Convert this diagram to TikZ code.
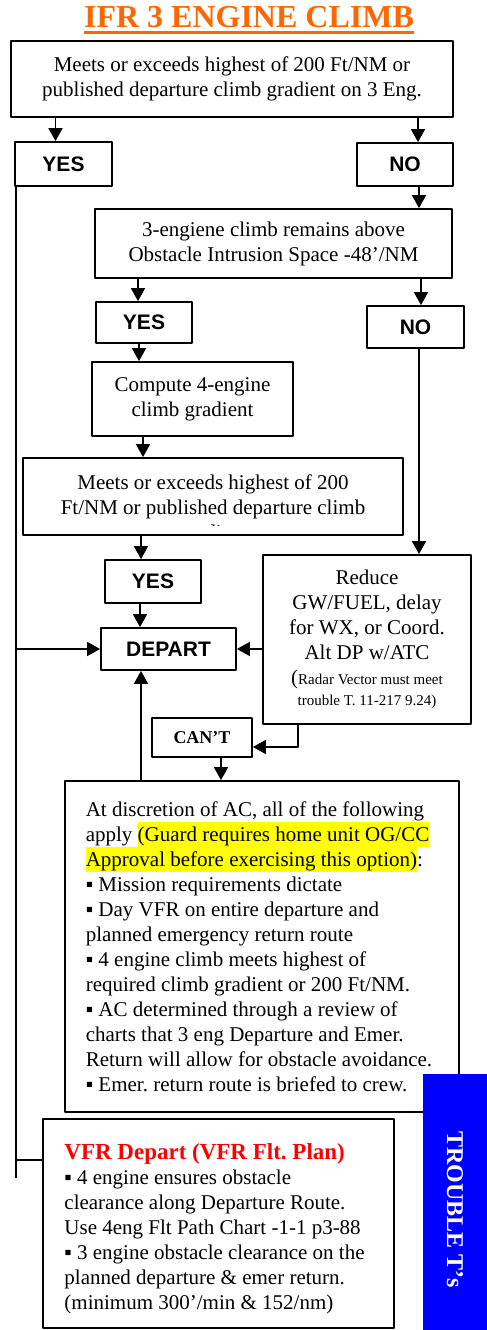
\documentclass[tikz,border=0pt]{standalone}
\usepackage{fontspec}
\setmainfont{Liberation Serif}
\newfontfamily\arialfont{Liberation Sans}
\usetikzlibrary{arrows.meta}
\definecolor{titleorange}{RGB}{255,102,0}
\definecolor{troubleblue}{RGB}{0,0,255}
\definecolor{markyellow}{RGB}{255,255,0}
\newcommand{\markup}[1]{{\setlength{\fboxsep}{0pt}\colorbox{markyellow}{\rule[-5.5pt]{0pt}{25pt}#1}}}
\frenchspacing
\begin{document}
\begin{tikzpicture}[x=1pt, y=-1pt, line join=round, >={Triangle[length=13pt,width=14pt]},
	font=\fontsize{21}{25}\selectfont,
	box/.style={draw, line width=1.8pt, inner sep=0pt, align=center},
	answer/.style={box, font=\arialfont\bfseries\fontsize{21}{25}\selectfont},
	link/.style={line width=1.8pt}]
	\useasboundingbox (0,0) rectangle (487,1330);
	\node[anchor=base, inner sep=0pt, text=titleorange, font=\bfseries\fontsize{32}{36}\selectfont] (title) at (249,28) {IFR 3 ENGINE CLIMB};
	\draw[titleorange, line width=2.6pt] ([yshift=-4.5pt]title.base west) -- ([yshift=-4.5pt]title.base east);
	\node[box, minimum width=442pt, minimum height=76pt] (gradthree) at (232,79) {Meets or exceeds highest of 200 Ft/NM or\\published departure climb gradient on 3 Eng.};
	\node[answer, minimum width=97pt, minimum height=44pt] (yesthree) at (63.5,164) {YES};
	\node[answer, minimum width=96pt, minimum height=43pt] (nothree) at (405,164.5) {NO};
	\node[box, minimum width=357pt, minimum height=69pt] (obstacle) at (273.5,243.5) {3-engiene climb remains above\\Obstacle Intrusion Space -48’/NM};
	\node[answer, minimum width=96pt, minimum height=41pt] (yesobst) at (144,322.5) {YES};
	\node[answer, minimum width=97pt, minimum height=42pt] (noobst) at (415.5,327) {NO};
	\node[box, minimum width=201pt, minimum height=74pt] (computefour) at (192.5,399) {Compute 4-engine\\climb gradient};
	\node[box, minimum width=380pt, minimum height=77pt] (gradfour) at (213,496.5) {Meets or exceeds highest of 200\\Ft/NM or published departure climb};
	\begin{scope}
		\clip ([yshift=10pt]gradfour.south west) rectangle (gradfour.north east);
		\node[anchor=base, inner sep=0pt] (gradtail) at ([yshift=-42.5pt]gradfour.center) {gradient};
	\end{scope}
	\node[answer, minimum width=96pt, minimum height=43pt] (yesfour) at (153,581.5) {YES};
	\node[box, minimum width=208pt, minimum height=169pt] (reduce) at (367,639.5) {Reduce\\GW/FUEL, delay\\for WX, or Coord.\\Alt DP w/ATC\\(\fontsize{15}{21}\selectfont Radar Vector must meet\\[-4pt]{\fontsize{15}{21}\selectfont trouble T. 11-217 9.24)}};
	\node[answer, minimum width=135pt, minimum height=42pt] (depart) at (168.5,649) {DEPART};
	\node[box, minimum width=100pt, minimum height=39pt, font=\bfseries\fontsize{18}{22}\selectfont] (cant) at (202,737.5) {CAN’T};
	\node[box, align=left, minimum width=394pt, minimum height=331pt] (discretion) at (262,946.5) {At discretion of AC, all of the following\\apply \markup{(Guard requires home unit OG/CC}\\\markup{Approval before exercising this option)}:\\▪ Mission requirements dictate\\▪ Day VFR on entire departure and\\planned emergency return route\\▪ 4 engine climb meets highest of\\required climb gradient or 200 Ft/NM.\\▪ AC determined through a review of\\charts that 3 eng Departure and Emer.\\Return will allow for obstacle avoidance.\hspace*{6pt}\mbox{}\\▪ Emer. return route is briefed to crew.};
	\node[box, align=left, minimum width=351pt, minimum height=209pt] (vfr) at (218.5,1223.5) {{\color{red}\bfseries\fontsize{23}{25}\selectfont\rule{0pt}{26pt}VFR Depart (VFR Flt. Plan)}\\▪ 4 engine ensures obstacle\\clearance along Departure Route.\\Use 4eng Flt Path Chart -1-1 p3-88\\▪ 3 engine obstacle clearance on the\hspace*{8pt}\mbox{}\\planned departure \& emer return.\\(minimum 300’/min \& 152/nm)};
	\node[fill=troubleblue, rotate=-90, minimum width=256pt, minimum height=64pt, inner sep=0pt, text=white, font=\bfseries\fontsize{24}{28}\selectfont] (trouble) at (455,1202) {\hspace*{15pt}TROUBLE T’s};
	\coordinate (yesfoot) at (16,1178);
	\draw[link,->] ([xshift=-8pt]yesthree.north |- gradthree.south) -- ([xshift=-8pt]yesthree.north);
	\draw[link,->] ([xshift=13pt]nothree.north |- gradthree.south) -- ([xshift=13pt]nothree.north);
	\draw[link,->] ([xshift=14pt]nothree.south) -- ([xshift=14pt]nothree.south |- obstacle.north);
	\draw[link,->] ([xshift=-6pt]yesobst.north |- obstacle.south) -- ([xshift=-6pt]yesobst.north);
	\draw[link,->] ([xshift=5.5pt]noobst.north |- obstacle.south) -- ([xshift=5.5pt]noobst.north);
	\draw[link,->] ([xshift=-5pt]yesobst.south) -- ([xshift=-5pt]yesobst.south |- computefour.north);
	\draw[link,->] ([xshift=-49.5pt]computefour.south) -- ([xshift=-49.5pt]computefour.south |- gradfour.north);
	\draw[link,->] ([xshift=-12pt]yesfour.north |- gradfour.south) -- ([xshift=-12pt]yesfour.north);
	\draw[link,->] ([xshift=3.5pt]noobst.south) -- ([xshift=3.5pt]noobst.south |- reduce.north);
	\draw[link,->] ([xshift=-13pt]yesfour.south) -- ([xshift=-13pt]yesfour.south |- depart.north);
	\draw[link,->] (reduce.west |- depart.east) -- (depart.east);
	\draw[link] (yesthree.south west -| yesfoot) -- (yesfoot);
	\draw[link,->] (depart.west -| yesfoot) -- (depart.west);
	\draw[link] ([yshift=63.5pt]vfr.west -| yesfoot) -- ([yshift=63.5pt]vfr.west);
	\draw[link,->] ([xshift=-27.5pt]depart.south |- discretion.north) -- ([xshift=-27.5pt]depart.south);
	\draw[link,->] ([xshift=-69pt]reduce.south) |- ([yshift=-9.5pt]cant.east);
	\draw[link,->] ([xshift=19pt]cant.south) -- ([xshift=19pt]cant.south |- discretion.north);
\end{tikzpicture}
\end{document}
